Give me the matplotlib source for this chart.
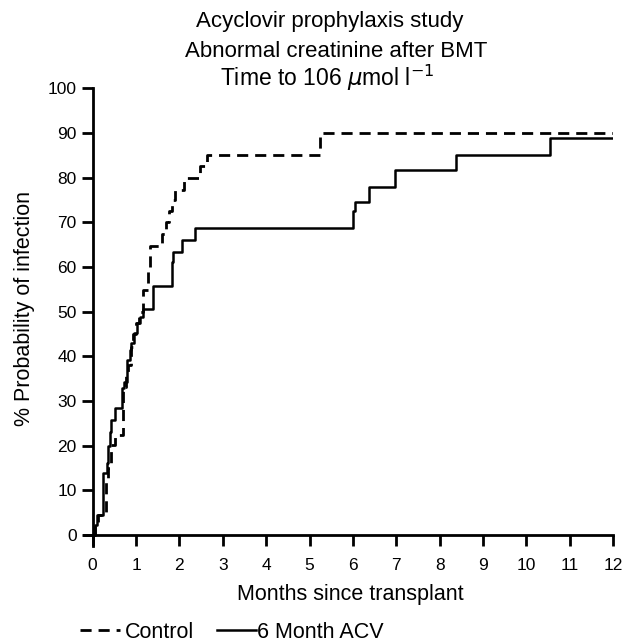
import matplotlib
matplotlib.use('Agg')
import matplotlib.pyplot as plt
from matplotlib.lines import Line2D

# Kaplan-Meier style step data (months, %)
control_t = [0, 0.05, 0.12, 0.30, 0.36, 0.42, 0.51, 0.71, 0.76, 0.82, 0.88, 0.94, 1.00,
             1.06, 1.15, 1.28, 1.33, 1.59, 1.68, 1.76, 1.84, 1.90, 2.11, 2.47, 2.64, 5.23, 12]
control_p = [0, 2.2, 4.5, 12.3, 14.9, 20.1, 22.4, 33.0, 35.5, 38.0, 42.0, 45.0, 47.4,
             50.0, 54.8, 59.5, 64.7, 67.3, 70.0, 72.6, 75.0, 77.3, 79.9, 82.6, 85.0, 90.0, 90.0]

acv_t = [0, 0.05, 0.10, 0.24, 0.33, 0.36, 0.40, 0.42, 0.52, 0.68, 0.72, 0.80, 0.85, 0.89,
         0.95, 1.03, 1.10, 1.17, 1.40, 1.82, 1.86, 2.06, 2.37, 6.00, 6.04, 6.37, 6.97,
         8.37, 10.55, 12]
acv_p = [0, 2.2, 4.5, 13.8, 16.0, 19.8, 23.1, 25.7, 28.3, 32.8, 34.3, 39.1, 41.4, 42.9,
         45.1, 47.4, 48.8, 50.6, 55.7, 61.0, 63.4, 66.1, 68.7, 72.5, 74.6, 77.9, 81.7,
         85.0, 88.9, 88.9]

xticks = list(range(0, 13))
yticks = list(range(0, 101, 10))

plt.rcParams['font.family'] = ['Liberation Sans', 'DejaVu Sans']

fig = plt.figure(figsize=(6.24, 6.42), dpi=100)
ax = fig.add_axes([0.1346, 0.1495, 0.848, 0.713])

ax.step(control_t, control_p, where='post', color='k', lw=2.0, linestyle=(0, (4, 2.5)))
ax.step(acv_t, acv_p, where='post', color='k', lw=1.8)

ax.set_xlim(-0.2, 12)
ax.set_ylim(-2.5, 100)
ax.spines['left'].set_position(('data', 0))
ax.spines['bottom'].set_position(('data', 0))
ax.spines['top'].set_visible(False)
ax.spines['right'].set_visible(False)
for s in ['left', 'bottom']:
    ax.spines[s].set_linewidth(2)

ax.set_xticks(xticks)
ax.set_yticks(yticks)
ax.tick_params(axis='both', direction='out', length=8, width=2, labelsize=12.5)
ax.tick_params(axis='x', pad=9)

fs = 15.5
fig.text(0.562, 0.065, 'Months since transplant', fontsize=fs, ha='center', va='baseline')
fig.text(0.04, 0.52, '% Probability of infection', rotation=90, fontsize=fs,
         ha='center', va='center')

fig.text(0.528, 0.958, 'Acyclovir prophylaxis study', fontsize=fs + 0.5, ha='center', va='baseline')
fig.text(0.538, 0.911, 'Abnormal creatinine after BMT', fontsize=fs + 0.5, ha='center', va='baseline')
fig.text(0.525, 0.866, r'Time to 106 $\mu$mol l$^{-1}$', fontsize=fs + 1, ha='center', va='baseline')

# legend drawn by hand below the axis
fig.add_artist(Line2D([0.128, 0.192], [0.019, 0.019], color='k', lw=2,
                      linestyle=(0, (4, 2.5)), transform=fig.transFigure))
fig.text(0.2, 0.006, 'Control', fontsize=fs, ha='left', va='baseline')
fig.add_artist(Line2D([0.348, 0.41], [0.019, 0.019], color='k', lw=1.8,
                      transform=fig.transFigure))
fig.text(0.412, 0.006, '6 Month ACV', fontsize=fs, ha='left', va='baseline')

plt.savefig('out.png', dpi=100)
